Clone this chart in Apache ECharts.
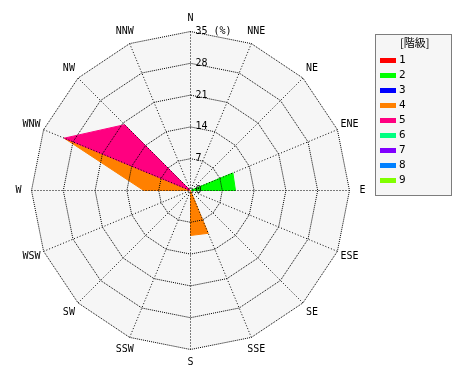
<!DOCTYPE html>
<html><head><meta charset="utf-8">
<script src="https://cdn.jsdelivr.net/npm/echarts@6/dist/echarts.min.js"></script>
<style>html,body{margin:0;padding:0;background:#fff}#c{width:470px;height:380px}</style>
</head><body><div id="c"></div>
<script>
// compass order, clockwise from N
var directions = ['N','NNE','NE','ENE','E','ESE','SE','SSE','S','SSW','SW','WSW','W','WNW','NW','NNW'];
var classNames = ['1','2','3','4','5','6','7','8','9'];
var classColors = ['#ff0000','#00ff00','#0000ff','#ff8000','#ff0080','#00ff80','#8000ff','#0080ff','#80ff00'];
var class1 = [0,0,0,0,0,0,0,0,0,0,0,0,0,0,0,0];
var class2 = [0,0,0,10.1,9.9,0,0,0,0,0,0,0,0,0,0,0];
var class3 = [0,0,0,0,0,0,0,0,0,0,0,0,0,21.5,0,0];
var class4 = [0,0,0,0,0,0,0,10.2,9.9,0,0,0,10.3,30.1,0,0];
var class5 = [0,0,0,0,0,0,0,0,0,0,0,0,0,30.1,20.5,0];
var class6 = [0,0,0,0,0,0,0,0,0,0,0,0,0,0,0,0];
var class7 = [0,0,0,0,0,0,0,0,0,0,0,0,0,0,0,0];
var class8 = [0,0,0,0,0,0,0,0,0,0,0,0,0,0,0,0];
var class9 = [0,0,0,0,0,0,0,0,0,0,0,0,0,0,0,0];
var radialTicks = [0,7,14,21,28,35];
var unitLabel = '(%)';
var legendTitle = '[階級]';

var classes = [class1,class2,class3,class4,class5,class6,class7,class8,class9];
var maxV = radialTicks[radialTicks.length-1];
// ECharts radar places indicators counter-clockwise: reorder
var order = [0];
for (var i = directions.length-1; i > 0; i--) order.push(i);
var font = 'DejaVu Sans Mono';
function indicators(withLabel){
  return order.map(function(k, j){
    var o = {name: directions[k], max: maxV, min: 0};
    if (withLabel && j === 0) o.axisLabel = {show: true};
    return o;
  });
}
var CENTER = [190.5, 190.5], RADIUS = 159;
var base = {
  center: CENTER, radius: RADIUS, shape: 'polygon', splitNumber: radialTicks.length-1,
  startAngle: 90
};
var dotted = {color: '#000', type: 'dotted', width: 1};
var spokeStyle = {color: '#000', type: [1, 2], width: 1};
var chart = echarts.init(document.getElementById('c'), null, {renderer:'canvas'});
chart.setOption({
  animation: false,
  backgroundColor: '#ffffff',
  title: {text: legendTitle, left: 400, top: 37, textStyle: {fontFamily: 'Noto Sans CJK JP', fontSize: 11, fontWeight: 'normal', color: '#000'}, padding: 0},
  graphic: [{type: 'rect', left: 375, top: 34, shape: {width: 76, height: 161}, style: {fill: '#f6f6f6', stroke: '#000', lineWidth: 1, lineDash: [1,1]}, z: -1}],
  legend: {
    orient: 'vertical', left: 380, top: 55, itemWidth: 16, itemHeight: 5, itemGap: 4, icon: 'rect',
    data: classNames, padding: 0,
    textStyle: {fontFamily: font, fontSize: 11, color: '#000', padding: [0,0,0,-2]}
  },
  polar: {center: CENTER, radius: RADIUS},
  angleAxis: {
    type: 'category', data: directions, boundaryGap: false, startAngle: 90, clockwise: true, z: 4,
    axisLine: {show: false}, axisTick: {show: false}, axisLabel: {show: false},
    splitLine: {show: true, lineStyle: spokeStyle}, splitArea: {show: false}
  },
  radiusAxis: {min: 0, max: maxV, show: false, splitLine: {show: false}},
  radar: [
    Object.assign({}, base, {
      z: 1, indicator: indicators(false),
      axisName: {show: false},
      axisLine: {show: false}, splitLine: {show: false},
      splitArea: {show: true, areaStyle: {color: ['#f6f6f6']}},
      axisLabel: {show: false}
    }),
    Object.assign({}, base, {
      z: 3, indicator: indicators(true), nameGap: 13,
      axisName: {color: '#000', fontFamily: font, fontSize: 10, align: 'center', verticalAlign: 'middle', padding: [6,0,0,0]},
      axisLine: {show: false},
      splitLine: {show: true, lineStyle: dotted},
      splitArea: {show: false},
      axisTick: {show: false},
      axisLabel: {show: false, color: '#000', fontFamily: font, fontSize: 10, margin: -5,
        align: 'left', verticalAlign: 'middle', padding: [0,0,14,0],
        formatter: function(v){ return v === maxV ? v + ' ' + unitLabel : String(v); }}
    })
  ],
  series: [{
    type: 'radar', radarIndex: 0, z: 2, symbol: 'none',
    data: classes.map(function(arr, c){
      return {
        name: classNames[c],
        value: order.map(function(k){ return arr[k]; }),
        itemStyle: {color: classColors[c]},
        lineStyle: {color: classColors[c], width: 1},
        areaStyle: {color: classColors[c], opacity: 1}
      };
    })
  }]
});
</script></body></html>
